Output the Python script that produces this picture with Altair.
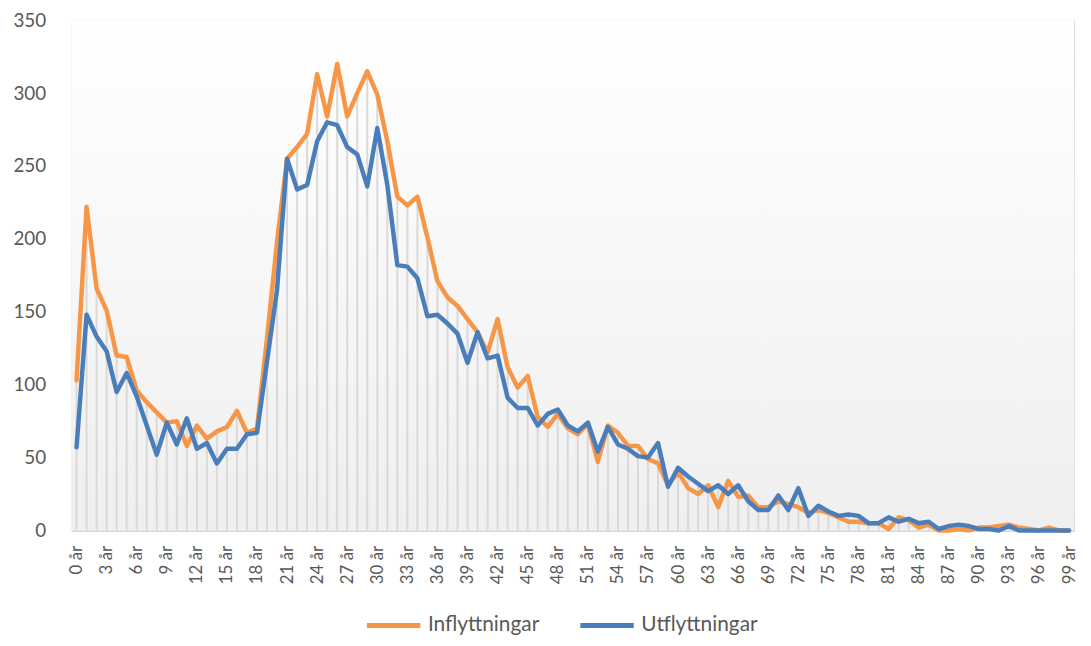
import altair as alt
import pandas as pd

ages = [f"{i} år" for i in range(100)]

inflyttningar = [
    103, 222, 166, 151, 120, 119, 96, 88, 81, 74,
    75, 58, 72, 63, 68, 71, 82, 67, 70, 132,
    198, 255, 263, 272, 313, 284, 320, 284, 300, 315,
    299, 267, 229, 223, 229, 201, 171, 160, 154, 145,
    136, 122, 145, 112, 98, 106, 78, 71, 80, 70,
    66, 73, 47, 72, 67, 58, 58, 49, 46, 31,
    40, 29, 25, 31, 16, 34, 23, 24, 16, 16,
    20, 18, 16, 12, 14, 12, 9, 6, 6, 5,
    5, 1, 9, 7, 2, 4, 0, 0, 1, 0,
    2, 2, 3, 4, 2, 1, 0, 2, 0, 0,
]

utflyttningar = [
    57, 148, 133, 123, 95, 108, 92, 72, 52, 74,
    59, 77, 56, 60, 46, 56, 56, 66, 67, 116,
    165, 255, 234, 237, 267, 280, 278, 263, 258, 236,
    276, 237, 182, 181, 173, 147, 148, 142, 135, 115,
    136, 118, 120, 91, 84, 84, 72, 80, 83, 72,
    68, 74, 54, 71, 59, 56, 51, 50, 60, 30,
    43, 37, 32, 27, 31, 25, 31, 20, 14, 14,
    24, 14, 29, 10, 17, 13, 10, 11, 10, 5,
    5, 9, 6, 8, 5, 6, 1, 3, 4, 3,
    1, 1, 0, 3, 0, 0, 0, 0, 0, 0,
]

series_names = ["Inflyttningar", "Utflyttningar"]
series_colors = ["#F79646", "#4A7EBB"]
y_ticks = [0, 50, 100, 150, 200, 250, 300, 350]
x_label_values = ages[::3]

W, H = 1010, 514
FONT = "Lato"
TXT = "#595959"

wide = pd.DataFrame({"age": ages, "Inflyttningar": inflyttningar, "Utflyttningar": utflyttningar})
wide["top"] = wide[["Inflyttningar", "Utflyttningar"]].max(axis=1)
long = wide.melt(id_vars=["age"], value_vars=series_names, var_name="serie", value_name="antal")

x_enc = alt.X(
    "age:N",
    sort=ages,
    scale=alt.Scale(type="point", padding=0.5),
    axis=alt.Axis(
        title=None,
        values=x_label_values,
        labelAngle=-90,
        labelFont=FONT,
        labelFontSize=17,
        labelColor=TXT,
        labelPadding=15,
        ticks=False,
        domain=True,
        domainColor="#d9d9d9",
        domainWidth=2,
        grid=False,
    ),
)
y_scale = alt.Scale(domain=[0, 350], nice=False, zero=True)

bg = alt.Chart(alt.Data(values=[{"k": 1}])).mark_rect(
    color=alt.LinearGradient(
        gradient="linear",
        stops=[alt.GradientStop(color="#ffffff", offset=0), alt.GradientStop(color="#efefef", offset=1)],
        x1=0, x2=0, y1=0, y2=1,
    )
).encode(x=alt.value(0), x2=alt.value(W), y=alt.value(0), y2=alt.value(H))

drops = alt.Chart(wide).mark_rule(color="#d9d9d9", strokeWidth=2).encode(
    x=x_enc,
    y=alt.Y(
        "top:Q",
        scale=y_scale,
        axis=alt.Axis(
            title=None,
            values=y_ticks,
            labelFont=FONT,
            labelFontSize=19,
            labelColor=TXT,
            labelPadding=26,
            ticks=False,
            domain=False,
            grid=False,
        ),
    ),
    y2=alt.datum(0),
)

lines = alt.Chart(long).mark_line(strokeWidth=4.5, strokeJoin="round", strokeCap="round").encode(
    x=alt.X("age:N", sort=ages),
    y=alt.Y("antal:Q", scale=y_scale),
    color=alt.Color(
        "serie:N",
        scale=alt.Scale(domain=series_names, range=series_colors),
        legend=alt.Legend(
            title=None,
            orient="none",
            direction="horizontal",
            legendX=295,
            legendY=580,
            symbolType="stroke",
            symbolSize=2900,
            symbolStrokeWidth=5,
            labelFont=FONT,
            labelFontSize=21,
            labelColor=TXT,
            labelOffset=5,
            columnPadding=30,
        ),
    ),
    order=alt.Order("serie:N"),
)

chart = (
    alt.layer(bg, drops, lines)
    .properties(
        width=W,
        height=H,
        autosize=alt.AutoSizeParams(type="none"),
        padding={"left": 64, "top": 10, "right": 9, "bottom": 106},
    )
    .configure_view(stroke=None)
    .configure(background="#ffffff")
)

chart.save("out.html", embed_options={"renderer": "svg", "actions": False})
